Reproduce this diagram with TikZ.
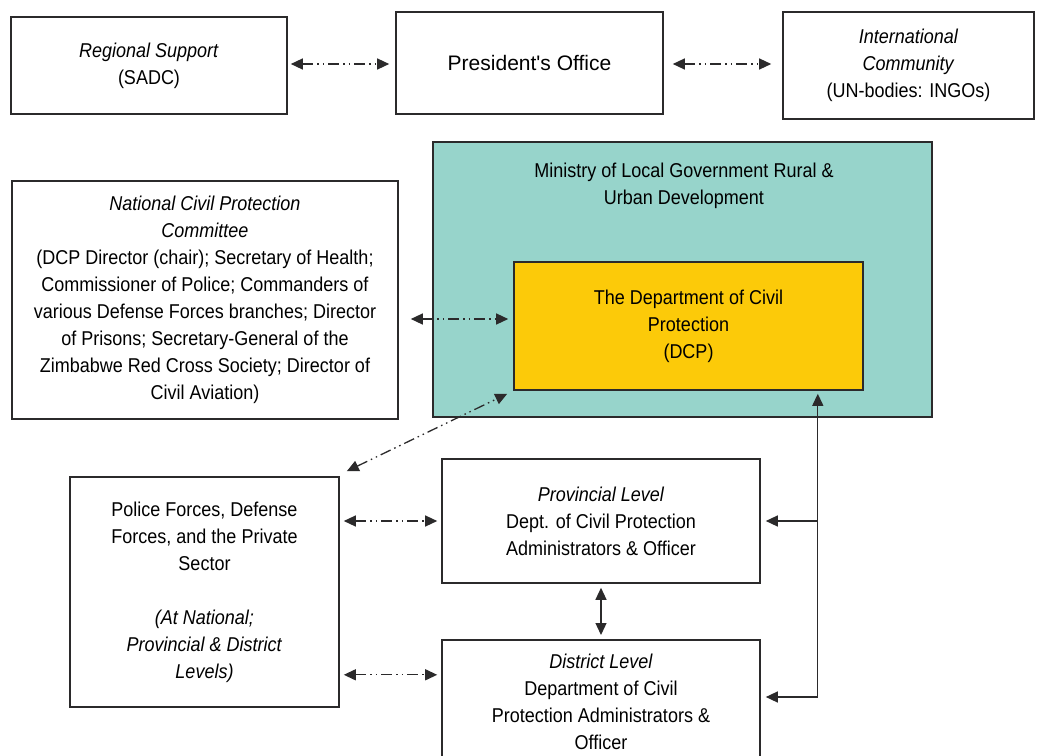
\documentclass[tikz,border=0pt]{standalone}
\usepackage{fontspec}
\setmainfont{Liberation Sans}[FakeStretch=0.9]
\newfontfamily\widesans{Liberation Sans}
\usepackage{tikz}
\usetikzlibrary{arrows.meta}
\definecolor{linegray}{HTML}{2B2A2B}
\definecolor{minteal}{HTML}{97D4CB}
\definecolor{dcpyellow}{HTML}{FCCA09}
\tikzstyle{box} = [draw=linegray, line width=1.6bp, align=center, inner sep=0pt,
  font=\fontsize{20bp}{27bp}\selectfont]
\tikzstyle{link} = [draw=linegray, line width=1.3bp, >={Triangle[length=12bp,width=11bp]}]
\tikzstyle{dashdot} = [link, <->, dash pattern=on 11bp off 4bp on 1.5bp off 4bp on 1.5bp off 4bp]

\begin{document}
\begin{tikzpicture}[x=1bp,y=-1bp]
\clip (0,0) rectangle (1037,756);
\fill[white] (0,0) rectangle (1037,756);

% top row
\node[box, minimum width=276bp, minimum height=97bp] (reg) at (149,65.5)
  {\textit{Regional Support}\\(SADC)};
\node[box, minimum width=267bp, minimum height=102bp] (pres) at (529.5,63)
  {\widesans\fontsize{21bp}{27bp}\selectfont President's Office};
\node[box, minimum width=251bp, minimum height=107bp] (intl) at (908.5,65.5)
  {\textit{International}\\\textit{Community}\\(UN-bodies: INGOs)};

% ministry and DCP
\node[box, fill=minteal, minimum width=499bp, minimum height=275bp] (min) at (682.5,279.5) {};
\node[align=center, font=\fontsize{20bp}{27bp}\selectfont, anchor=north, inner sep=0pt] (minlabel) at (684,163)
  {Ministry of Local Government Rural \&\\Urban Development};
\node[box, fill=dcpyellow, minimum width=349bp, minimum height=128bp] (dcp) at (688.5,326)
  {The Department of Civil\\Protection\\(DCP)};

\node[box, minimum width=386bp, minimum height=238bp] (ncpc) at (205,300)
  {\textit{National Civil Protection}\\\textit{Committee}\\
   (DCP Director (chair); Secretary of Health;\\
   Commissioner of Police; Commanders of\\
   various Defense Forces branches; Director\\
   of Prisons; Secretary-General of the\\
   Zimbabwe Red Cross Society; Director of\\
   Civil Aviation)};

% lower levels
\node[box, minimum width=269bp, minimum height=230bp] (pol) at (204.5,592)
  {Police Forces, Defense\\Forces, and the Private\\Sector\\[27bp]
   \textit{(At National;}\\\textit{Provincial \& District}\\\textit{Levels)}};
\node[box, minimum width=318bp, minimum height=124bp] (prov) at (601,521)
  {\textit{Provincial Level}\\Dept. of Civil Protection\\Administrators \& Officer};
\node[box, minimum width=318bp, minimum height=124bp, anchor=north] (dist) at (601,639)
  {\textit{District Level}\\Department of Civil\\Protection Administrators \&\\Officer};

% connectors
\draw[dashdot] ([xshift=3bp]reg.east |- 0,64) -- ([xshift=-6bp]pres.west |- 0,64);
\draw[dashdot] ([xshift=9bp]pres.east |- 0,64) -- ([xshift=-11bp]intl.west |- 0,64);
\coordinate (dcpin) at ([xshift=-5bp,yshift=7bp]dcp.west);
\draw[dashdot] ([xshift=12bp]ncpc.east |- dcpin) -- (dcpin);
\draw[dashdot] ([xshift=7bp,yshift=5bp]pol.north east) -- ([xshift=-6bp,yshift=-3bp]dcp.south west);
\draw[dashdot] ([xshift=4bp]pol.east |- prov.west) -- ([xshift=-4bp]prov.west);
\coordinate (distin) at ([xshift=-4bp,yshift=27bp]dist.west);
\draw[dashdot] ([xshift=4bp]pol.east |- distin) -- (distin);
\draw[link, <->] ([yshift=-4bp]prov.south) -- ([yshift=4bp]dist.north);

\coordinate (railp) at ([xshift=57bp]prov.east);
\coordinate (raild) at (railp |- 0,697);
\draw[link, ->] (raild) -- ([yshift=-3bp]raild |- dcp.south);
\draw[link, ->] (railp) -- ([xshift=5bp]prov.east);
\draw[link, ->] (raild) -- ([xshift=5bp]raild -| dist.east);
\end{tikzpicture}
\end{document}
